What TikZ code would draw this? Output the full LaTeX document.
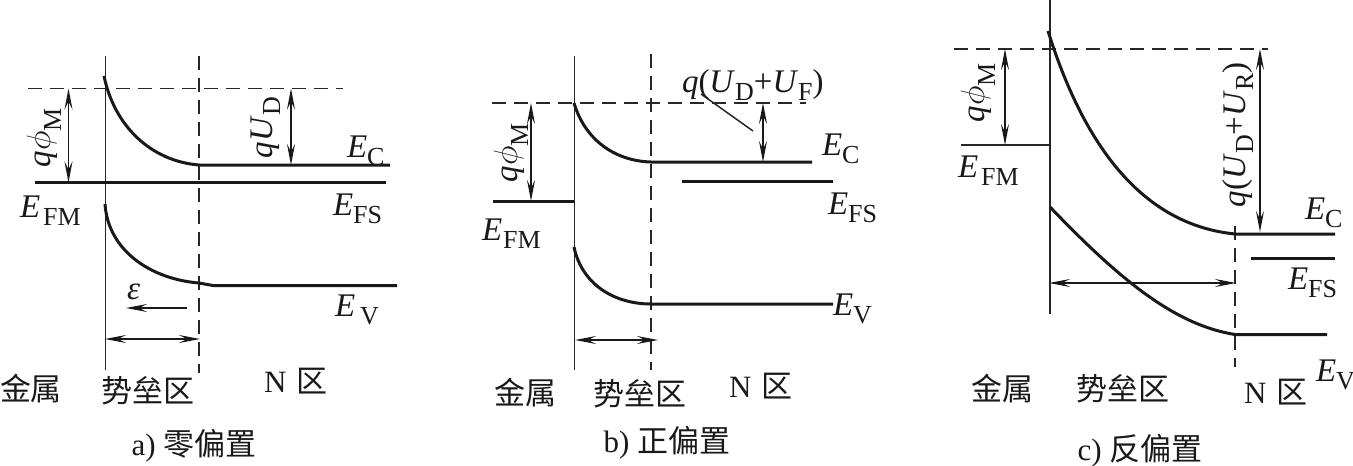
\documentclass[tikz,border=0pt]{standalone}
\usepackage{fontspec}
\usepackage{graphicx}
\setmainfont{Liberation Serif}
\newfontfamily\cjk{Noto Sans CJK SC}
\usetikzlibrary{arrows.meta}
\newcommand\Sb[2][8]{\raisebox{-#1pt}{\fontsize{26}{26}\selectfont #2}}
\newcommand\Iv[1]{\textit{#1}}
\newcommand\Ph{\scalebox{1.35}{$\phi$}}
\tikzset{
  thinln/.style={line width=1.5pt,black!85},
  band/.style={line width=3pt,black!90},
  dashln/.style={line width=1.5pt,black!85,dash pattern=on 14pt off 8pt},
  dim/.style={line width=1.3pt,black!90,{Stealth[length=21pt,width=8pt,inset=8pt]}-{Stealth[length=21pt,width=8pt,inset=8pt]}},
  onedim/.style={line width=1.3pt,black!90,-{Stealth[length=21pt,width=8pt,inset=8pt]}},
  lab/.style={anchor=base west,inner sep=0pt,outer sep=0pt,font=\fontsize{33}{33}\selectfont,black!90},
  vlab/.style={lab,rotate=90},
  zh/.style={anchor=center,inner sep=0pt,outer sep=0pt,font=\fontsize{31}{31}\selectfont\cjk,black!90},
  captxt/.style={anchor=base,inner sep=0pt,outer sep=0pt,font=\fontsize{31}{31}\selectfont,black!90}
}
\begin{document}
\begin{tikzpicture}[x=1pt,y=-1pt]
\useasboundingbox (0,0) rectangle (1353,466);
% ---------- panel a
\coordinate (aT) at (105.5,56); \coordinate (aB) at (105.5,370);
\coordinate (aDT) at (199,56); \coordinate (aDB) at (199,373);
\coordinate (aHL) at (28,88.5); \coordinate (aHR) at (343,88.5);
\coordinate (aEc0) at (104,76); \coordinate (aEc1) at (199,165); \coordinate (aEc2) at (390,165);
\coordinate (aF0) at (35,182.5); \coordinate (aF1) at (386,182.5);
\coordinate (aEv0) at (105,204); \coordinate (aEv1) at (199,283); \coordinate (aEv2) at (213,285.5); \coordinate (aEv3) at (397,285.5);
\coordinate (aM0) at (68.5,88.5); \coordinate (aM1) at (68.5,182.5);
\coordinate (aD0) at (291,88.5); \coordinate (aD1) at (291,165);
\coordinate (aE0) at (187,308); \coordinate (aE1) at (126,308);
\coordinate (aW0) at (105,339); \coordinate (aW1) at (200,339);
\draw[thinln] (aT) -- (aB);
\draw[dashln] (aDT) -- (aDB);
\draw[dashln] (aHL) -- (aHR);
\draw[band] (aEc0) .. controls (114,125) and (150,161) .. (aEc1) -- (aEc2);
\draw[band] (aF0) -- (aF1);
\draw[band] (aEv0) .. controls (108,250) and (150,279) .. (aEv1) -- (aEv2) -- (aEv3);
\draw[dim] (aM0) -- (aM1);
\draw[dim] (aD0) -- (aD1);
\draw[onedim] (aE0) -- (aE1);
\draw[dim] (aW0) -- (aW1);
\node[vlab] (aqm) at (50,167) {\Iv{q}\Ph\Sb[11]{M}};
\node[vlab] (aqu) at (272,158) {\Iv{qU}\Sb{D}};
\node[lab] (aefm) at (20,217) {\Iv{E}\hspace{3pt}\Sb{FM}};
\node[lab] (aec) at (347,157) {\Iv{E}\Sb{C}};
\node[lab] (aefs) at (333,215) {\Iv{E}\Sb{FS}};
\node[lab] (aev) at (335,316) {\Iv{E}\hspace{5pt}\Sb{V}};
\node[lab] (aeps) at (127,299) {\Iv{ε}};
\node[zh] (am) at (31,389) {金属};
\node[zh] (ab) at (148,391) {势垒区};
\node[lab,font=\fontsize{31}{31}\selectfont] (an) at (264,392) {N\hspace{10pt}{\cjk 区}};
\node[captxt] (ac) at (194,455) {a) {\cjk 零偏置}};
% ---------- panel b
\coordinate (bT) at (574.5,56); \coordinate (bB) at (574.5,370);
\coordinate (bDT) at (651,54); \coordinate (bDB) at (651,370);
\coordinate (bHL) at (492,103); \coordinate (bHR) at (806,103);
\coordinate (bEc0) at (574,103); \coordinate (bEc1) at (651,162); \coordinate (bEc2) at (812,162);
\coordinate (bS0) at (682,181); \coordinate (bS1) at (833,181);
\coordinate (bF0) at (493,201.5); \coordinate (bF1) at (574,201.5);
\coordinate (bEv0) at (574,247); \coordinate (bEv1) at (651,304); \coordinate (bEv2) at (833,304);
\coordinate (bM0) at (531,103); \coordinate (bM1) at (531,201);
\coordinate (bD0) at (763,103); \coordinate (bD1) at (763,162);
\coordinate (bL0) at (701,94); \coordinate (bL1) at (753,131);
\coordinate (bW0) at (575,340); \coordinate (bW1) at (658,340);
\draw[thinln] (bT) -- (bB);
\draw[dashln] (bDT) -- (bDB);
\draw[dashln] (bHL) -- (bHR);
\draw[band] (bEc0) .. controls (585,140) and (615,161) .. (bEc1) -- (bEc2);
\draw[band] (bS0) -- (bS1);
\draw[band] (bF0) -- (bF1);
\draw[band] (bEv0) .. controls (582,285) and (615,304) .. (bEv1) -- (bEv2);
\draw[dim] (bM0) -- (bM1);
\draw[dim] (bD0) -- (bD1);
\draw[thinln] (bL0) -- (bL1);
\draw[dim] (bW0) -- (bW1);
\node[vlab] (bqm) at (517,182) {\Iv{q}\Ph\Sb[11]{M}};
\node[lab] (bqu) at (682,92) {\Iv{q}(\Iv{U}\Sb{D}+\Iv{U}\Sb{F})};
\node[lab] (befm) at (482,240) {\Iv{E}\hspace{1pt}\Sb{FM}};
\node[lab] (bec) at (822,155) {\Iv{E}\Sb{C}};
\node[lab] (befs) at (828,214) {\Iv{E}\Sb{FS}};
\node[lab] (bev) at (833,315) {\Iv{E}\Sb{V}};
\node[zh] (bm) at (525,393) {金属};
\node[zh] (bb) at (640,394) {势垒区};
\node[lab,font=\fontsize{31}{31}\selectfont] (bn) at (729,397) {N\hspace{10pt}{\cjk 区}};
\node[captxt] (bc) at (667,452) {b) {\cjk 正偏置}};
% ---------- panel c
\coordinate (cT) at (1050,0); \coordinate (cB) at (1050,314);
\coordinate (cDT) at (1235,226); \coordinate (cDB) at (1235,367);
\coordinate (cHL) at (954,49); \coordinate (cHR) at (1268,49);
\coordinate (cEc0) at (1048,31); \coordinate (cEc1) at (1235,234); \coordinate (cEc2) at (1335,234);
\coordinate (cS0) at (1251,258); \coordinate (cS1) at (1335,258);
\coordinate (cF0) at (961,145); \coordinate (cF1) at (1050,145);
\coordinate (cEv0) at (1050,207); \coordinate (cEv1) at (1235,334.5); \coordinate (cEv2) at (1327,334.5);
\coordinate (cM0) at (1005,49); \coordinate (cM1) at (1005,145);
\coordinate (cD0) at (1260,49); \coordinate (cD1) at (1260,232);
\coordinate (cW0) at (1049,283); \coordinate (cW1) at (1236,283);
\draw[thinln] (cT) -- (cB);
\draw[dashln] (cDT) -- (cDB);
\draw[dashln] (cHL) -- (cHR);
\draw[band] (cEc0) .. controls (1090,165) and (1155,226) .. (cEc1) -- (cEc2);
\draw[band] (cS0) -- (cS1);
\draw[thinln] (cF0) -- (cF1);
\draw[band] (cEv0) .. controls (1120,280) and (1175,325) .. (cEv1) -- (cEv2);
\draw[dim] (cM0) -- (cM1);
\draw[dim] (cD0) -- (cD1);
\draw[dim] (cW0) -- (cW1);
\node[vlab] (cqm) at (984,122) {\Iv{q}\Ph\Sb[11]{M}};
\node[vlab] (cqu) at (1245,207) {\Iv{q}(\Iv{U}\Sb{D}+\Iv{U}\Sb{R})};
\node[lab] (cefm) at (958,177) {\Iv{E}\hspace{3pt}\Sb{FM}};
\node[lab] (cec) at (1305,219) {\Iv{E}\Sb{C}};
\node[lab] (cefs) at (1288,289) {\Iv{E}\Sb{FS}};
\node[lab] (cev) at (1316,381) {\Iv{E}\Sb{V}};
\node[zh] (cm) at (1002,389) {金属};
\node[zh] (cb) at (1123,389) {势垒区};
\node[lab,font=\fontsize{31}{31}\selectfont] (cn) at (1244,403) {N\hspace{10pt}{\cjk 区}};
\node[captxt] (cc) at (1140,460) {c) {\cjk 反偏置}};
\end{tikzpicture}
\end{document}
